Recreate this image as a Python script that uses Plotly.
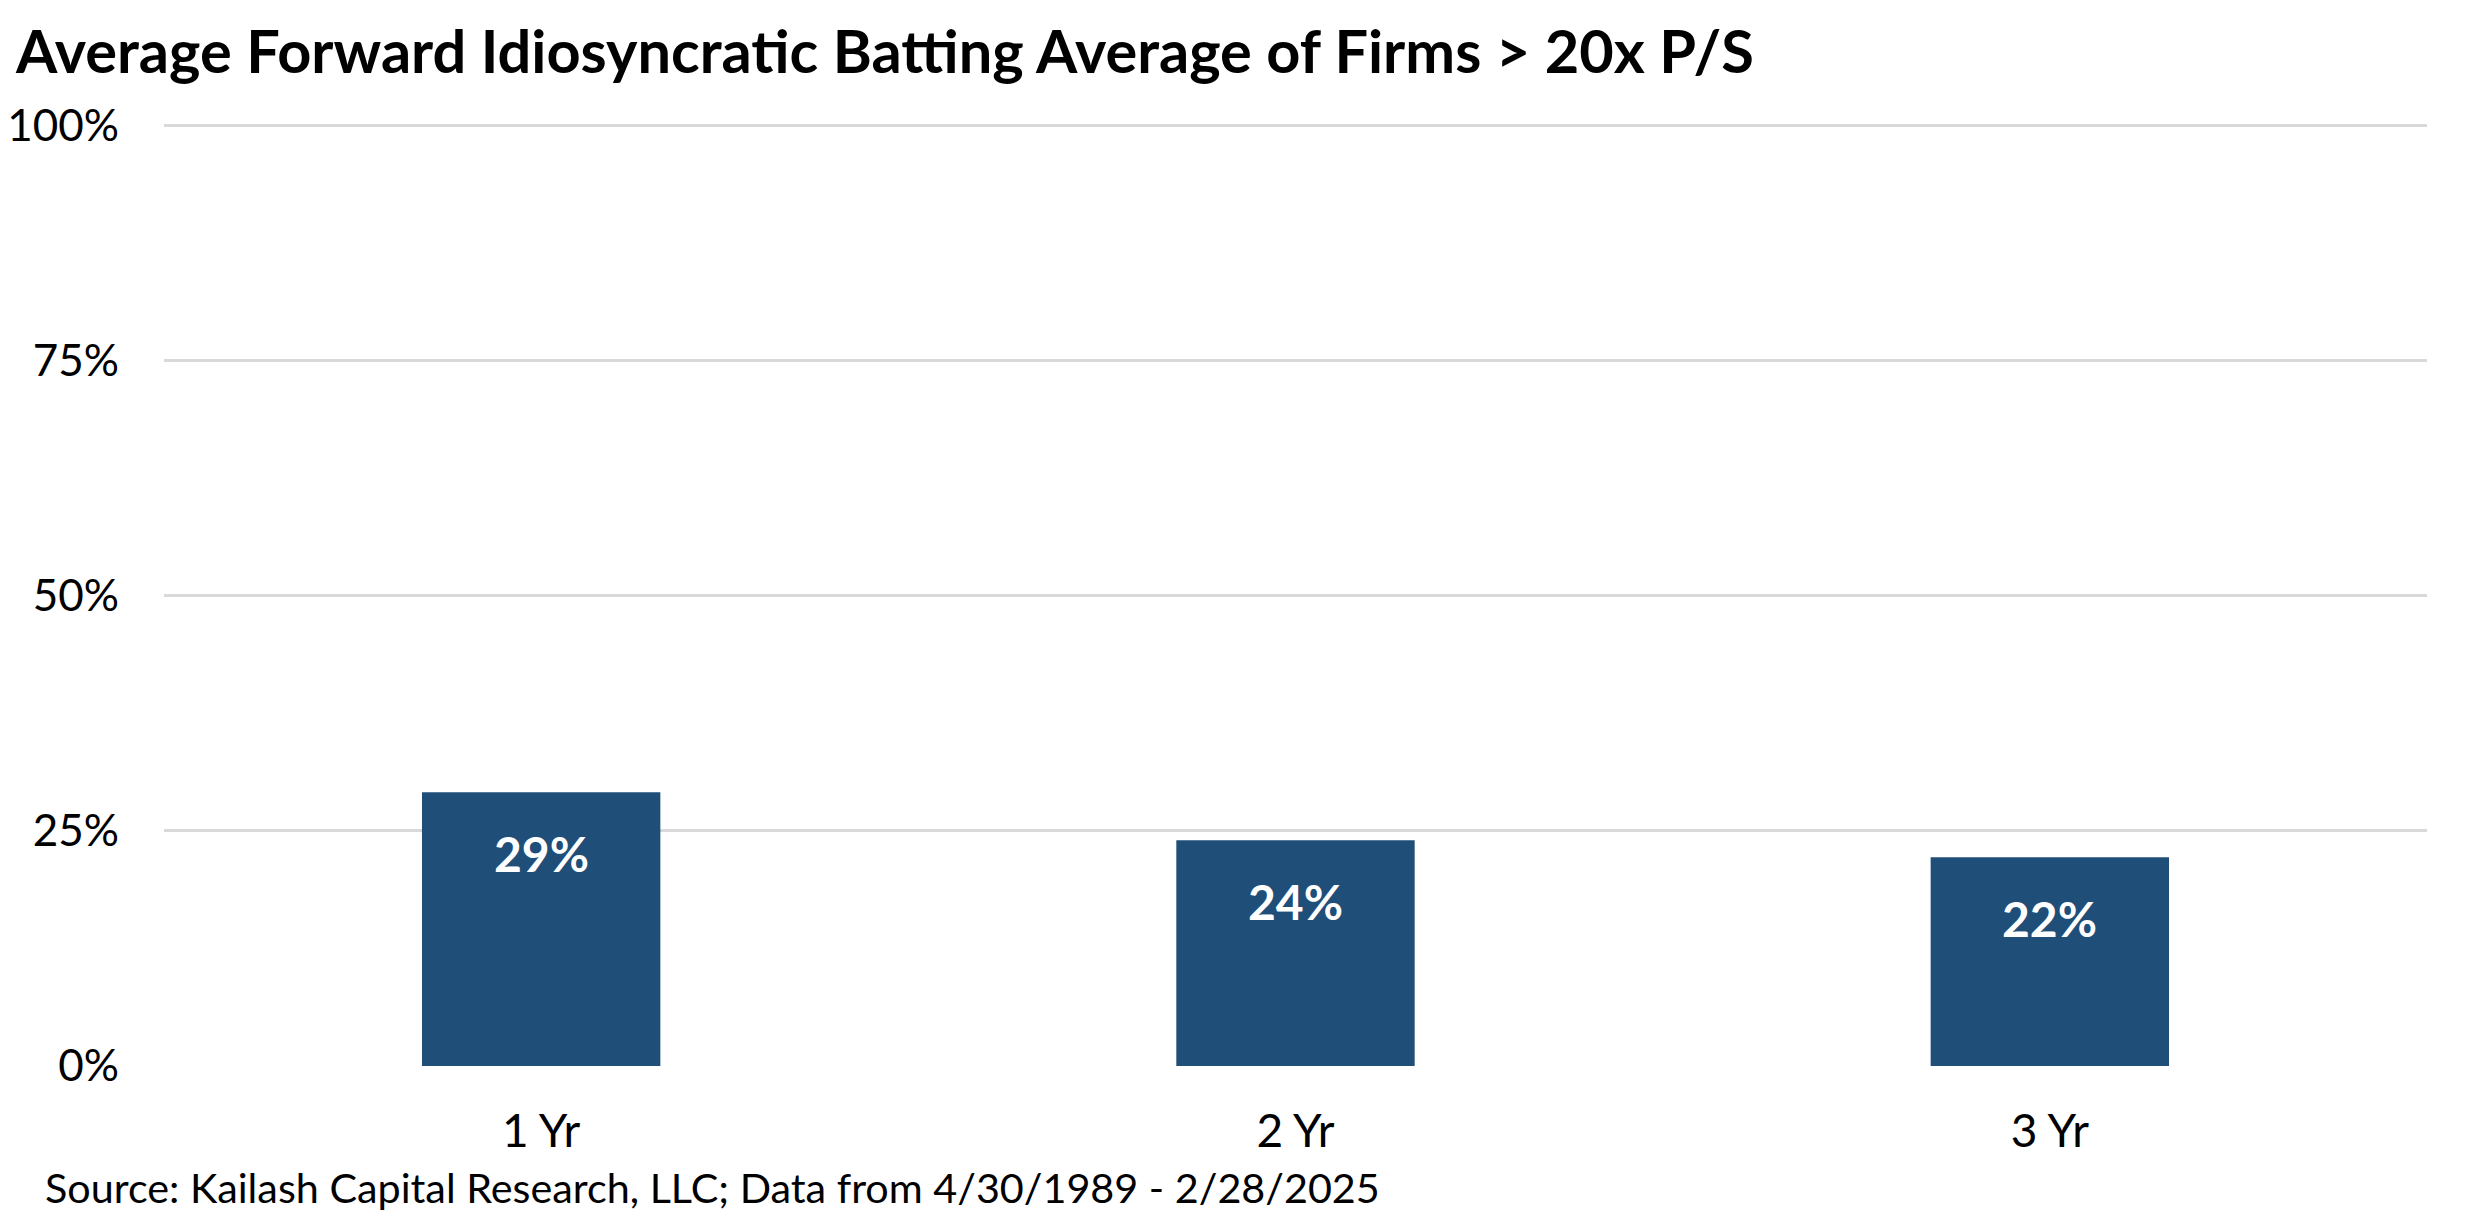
import plotly.graph_objects as go

categories = ["1 Yr", "2 Yr", "3 Yr"]
values = [0.291, 0.240, 0.222]
labels = ["29%", "24%", "22%"]
y_ticks = [0, 0.25, 0.5, 0.75, 1.0]
y_tick_text = ["0%", "25%", "50%", "75%", "100%"]
title_text = "Average Forward Idiosyncratic Batting Average of Firms > 20x P/S"
source_text = "Source: Kailash Capital Research, LLC; Data from 4/30/1989 - 2/28/2025"

# page body adds an 8px margin, so draw in a slightly smaller frame
W, H = 2467, 1213
y_top_px, y_bot_px = 118, 1058          # pixel rows of 100% and 0%
y_max = 1.005
ph = (y_bot_px - y_top_px) * y_max
T = y_bot_px - ph
B = H - y_bot_px
L, R = 156, 48
pw = W - L - R

bar_color = "#1F4E79"
grid_color = "#D9D9D9"
font_family = "Lato, Carlito, Calibri, sans-serif"

fig = go.Figure()
fig.add_trace(go.Bar(
    x=categories, y=values, marker=dict(color=bar_color, line=dict(width=0)),
    width=0.316, hoverinfo="skip", showlegend=False,
))

for c, v, t in zip(categories, values, labels):
    fig.add_annotation(x=c, y=v, text=f"<b>{t}</b>", showarrow=False,
                       yanchor="top", yshift=-31,
                       font=dict(family=font_family, size=48, color="white"))

fig.add_annotation(xref="paper", yref="paper",
                   x=(35 - L) / pw, y=-(1179 - y_bot_px) / ph,
                   xanchor="left", yanchor="middle", showarrow=False,
                   text=source_text,
                   font=dict(family=font_family, size=41.3, color="black"))

fig.update_layout(
    width=W, height=H,
    margin=dict(l=L, r=R, t=T, b=B, pad=0),
    paper_bgcolor="white", plot_bgcolor="white",
    title=dict(text=f"<b>{title_text}</b>", x=8 / W, xanchor="left",
               y=1 - 44 / H, yanchor="middle",
               font=dict(family=font_family, size=59.5, color="black")),
    font=dict(family=font_family, color="black"),
    xaxis=dict(showgrid=False, showline=False, zeroline=False,
               tickfont=dict(size=46, color="black"), ticks="",
               ticklabelstandoff=34, automargin=False),
    yaxis=dict(range=[0, y_max], tickvals=y_ticks, ticktext=y_tick_text,
               showgrid=True, gridcolor=grid_color, gridwidth=3,
               zeroline=False, showline=False, ticks="",
               tickfont=dict(size=44, color="black"), ticklabelstandoff=44,
               automargin=False),
)

fig.write_html("out.html")
